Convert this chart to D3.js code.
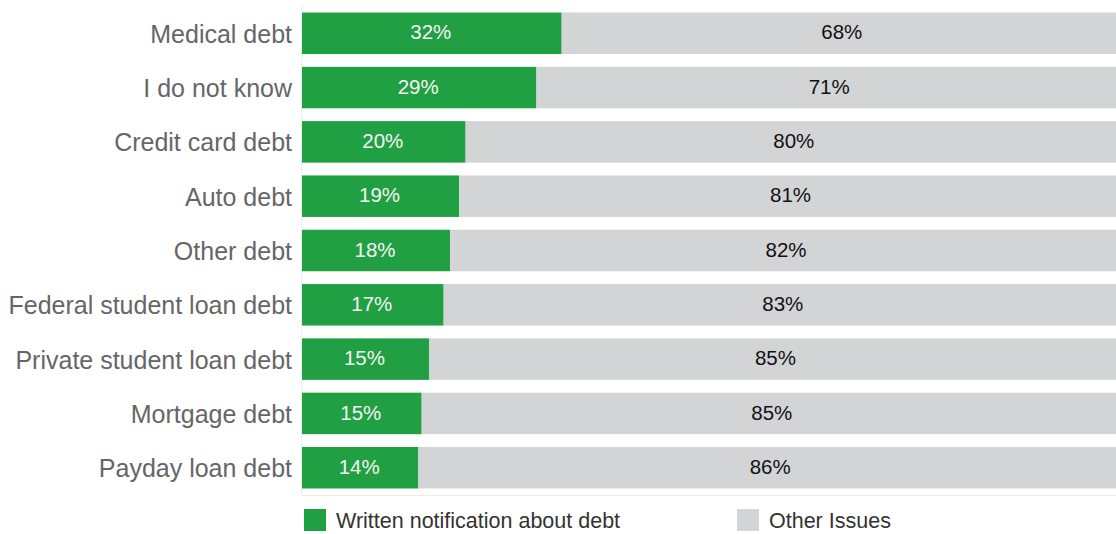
<!DOCTYPE html>
<html>
<head>
<meta charset="utf-8">
<script src="https://cdn.jsdelivr.net/npm/d3@7"></script>
<style>
  html, body { margin: 0; padding: 0; background: #fff; }
  svg { display: block; }
  text { font-family: "Liberation Sans", Arial, sans-serif; }
</style>
</head>
<body>
<svg id="chart" width="1116" height="534"></svg>
<script>
const categories = ["Medical debt", "I do not know", "Credit card debt", "Auto debt", "Other debt",
  "Federal student loan debt", "Private student loan debt", "Mortgage debt", "Payday loan debt"];
const writtenValues = [31.9, 28.8, 20.1, 19.3, 18.2, 17.4, 15.6, 14.7, 14.3];
const otherValues   = [68.1, 71.2, 79.9, 80.7, 81.8, 82.6, 84.4, 85.3, 85.7];
const writtenLabels = ["32%", "29%", "20%", "19%", "18%", "17%", "15%", "15%", "14%"];
const otherLabels   = ["68%", "71%", "80%", "81%", "82%", "83%", "85%", "85%", "86%"];
const seriesNames = ["Written notification about debt", "Other Issues"];
const seriesColors = ["#21a043", "#d3d4d6"];

(function () {
const svg = d3.select("#chart");
const mLeft = 302, mRight = 1116, mTop = 6, mBottom = 495;

const x = d3.scaleLinear().domain([0, 100]).range([mLeft, mRight]);
const y = d3.scaleBand().domain(categories).range([mTop, mBottom]).paddingInner(0.236).paddingOuter(0.12);

// faint plot frame lines
svg.append("line").attr("x1", mLeft - 0.5).attr("x2", mLeft - 0.5).attr("y1", mTop).attr("y2", mBottom)
  .attr("stroke", "#eeeeee").attr("stroke-width", 1);
svg.append("line").attr("x1", mLeft - 1).attr("x2", mRight).attr("y1", mBottom + 0.5).attr("y2", mBottom + 0.5)
  .attr("stroke", "#eeeeee").attr("stroke-width", 1);

const rows = categories.map((c, i) => ({
  cat: c, w: writtenValues[i], o: otherValues[i], wl: writtenLabels[i], ol: otherLabels[i]
}));

// green bars
svg.append("g").selectAll("rect").data(rows).join("rect")
  .attr("x", x(0)).attr("y", d => y(d.cat))
  .attr("width", d => x(d.w) - x(0)).attr("height", y.bandwidth())
  .attr("fill", seriesColors[0]);
// grey bars
svg.append("g").selectAll("rect").data(rows).join("rect")
  .attr("x", d => x(d.w)).attr("y", d => y(d.cat))
  .attr("width", d => x(d.w + d.o) - x(d.w)).attr("height", y.bandwidth())
  .attr("fill", seriesColors[1]);

// value labels
svg.append("g").selectAll("text").data(rows).join("text")
  .attr("x", d => (x(0) + x(d.w)) / 2 - 1).attr("y", d => y(d.cat) + y.bandwidth() / 2 - 1)
  .attr("dy", "0.35em").attr("text-anchor", "middle")
  .attr("font-size", 20.5).attr("fill", "#f4f4f4")
  .text(d => d.wl);
svg.append("g").selectAll("text").data(rows).join("text")
  .attr("x", d => (x(d.w) + x(d.w + d.o)) / 2 + 3).attr("y", d => y(d.cat) + y.bandwidth() / 2 - 1)
  .attr("dy", "0.35em").attr("text-anchor", "middle")
  .attr("font-size", 20.5).attr("fill", "#111111")
  .text(d => d.ol);

// category axis
const yAxis = svg.append("g").attr("transform", `translate(${mLeft},0)`)
  .call(d3.axisLeft(y).tickSize(0).tickPadding(10));
yAxis.select(".domain").remove();
yAxis.selectAll("text").attr("font-size", 25).attr("fill", "#666666").attr("dy", "0.38em")
  .attr("font-family", "Liberation Sans, Arial, sans-serif");

// legend
const legendX = [304, 737];
const lg = svg.append("g").selectAll("g").data(seriesNames).join("g")
  .attr("transform", (d, i) => `translate(${legendX[i]},509)`);
lg.append("rect").attr("width", 22).attr("height", 22).attr("fill", (d, i) => seriesColors[i]);
lg.append("text").attr("x", 32).attr("y", 19).attr("font-size", 21.5).attr("fill", "#333333")
  .text(d => d);
})();
</script>
</body>
</html>
